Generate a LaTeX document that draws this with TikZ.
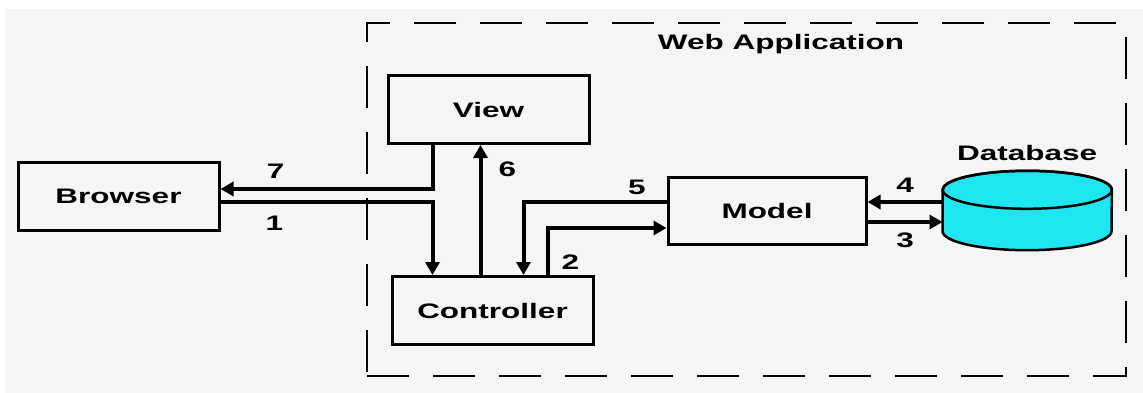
\documentclass[tikz,border=0pt]{standalone}
\usepackage{fontspec}
\setmainfont{Liberation Sans}[FakeStretch=1.5]
\usetikzlibrary{positioning,arrows.meta}
\definecolor{pagegray}{RGB}{245,245,245}
\definecolor{dbcyan}{RGB}{30,230,240}

\begin{document}
\begin{tikzpicture}[x=1pt, y=1pt,
  every node/.style={font=\bfseries\fontsize{21}{21}\selectfont},
  box/.style={draw, line width=3pt, minimum width=201pt, minimum height=68pt, inner sep=0pt},
  flow/.style={line width=4pt, -{Triangle[length=13pt,width=14pt]}},
  num/.style={inner sep=0pt}]
\useasboundingbox (0,0) rectangle (1143,-393);
\fill[pagegray] (5,-9) rectangle (1143,-393);
\node[draw, dash pattern=on 42pt off 24pt, line width=2.5pt, minimum width=759pt, minimum height=353pt, inner sep=0pt] (webapp) at (746.5,-199.5) {};
\node (apptitle) at ([xshift=34.5pt, yshift=-22pt]webapp.north) {Web Application};
\node[box] (browser) at (118.5,-196) {Browser};
\node[box, right=166pt of browser, yshift=86.5pt] (view) {View};
\node[box, below=130pt of view, xshift=4pt] (controller) {Controller};
\node[box, right=72pt of controller, yshift=100pt, minimum width=198pt, minimum height=67pt] (model) {Model};
\node[inner sep=0pt, minimum width=169pt, minimum height=41pt, right=75pt of model] (db) {};
\node[above=29pt of db, inner sep=0pt] (dbtitle) {Database};
% database cylinder
\draw[line width=2.5pt, fill=dbcyan] (db.north west) -- (db.south west)
  arc[start angle=180, end angle=360, x radius=84.5pt, y radius=19pt] -- (db.north east)
  arc[start angle=0, end angle=180, x radius=84.5pt, y radius=19pt] -- cycle;
\draw[line width=2.5pt] (db.north) ellipse[x radius=84.5pt, y radius=19pt];
\coordinate (c6) at ([xshift=90pt]controller.north west);
\coordinate (d4) at ([yshift=8.5pt]db.west);
\coordinate (m3) at ([yshift=-11.5pt]model.east);
\draw[flow] ([xshift=46pt]view.south west) |- ([yshift=7pt]browser.east) node[num, pos=0.87, yshift=18pt] {7};
\draw[flow] ([yshift=-6pt]browser.east) -| ([xshift=42pt]controller.north west) node[num, pos=0.127, yshift=-21pt] {1};
\draw[flow] (c6) -- (c6 |- view.south) node[num, pos=0.815, xshift=27pt] {6};
\draw[flow] ([yshift=8.5pt]model.west) -| ([xshift=133pt]controller.north west) node[num, pos=0.104, yshift=15pt] {5};
\draw[flow] ([xshift=157pt]controller.north west) |- ([yshift=-17.5pt]model.west) node[num, pos=0.135, xshift=23pt] {2};
\draw[flow] (d4) -- (d4 -| model.east) node[num, midway, yshift=17pt] {4};
\draw[flow] (m3) -- (m3 -| db.west) node[num, midway, yshift=-18pt] {3};
\end{tikzpicture}
\end{document}
